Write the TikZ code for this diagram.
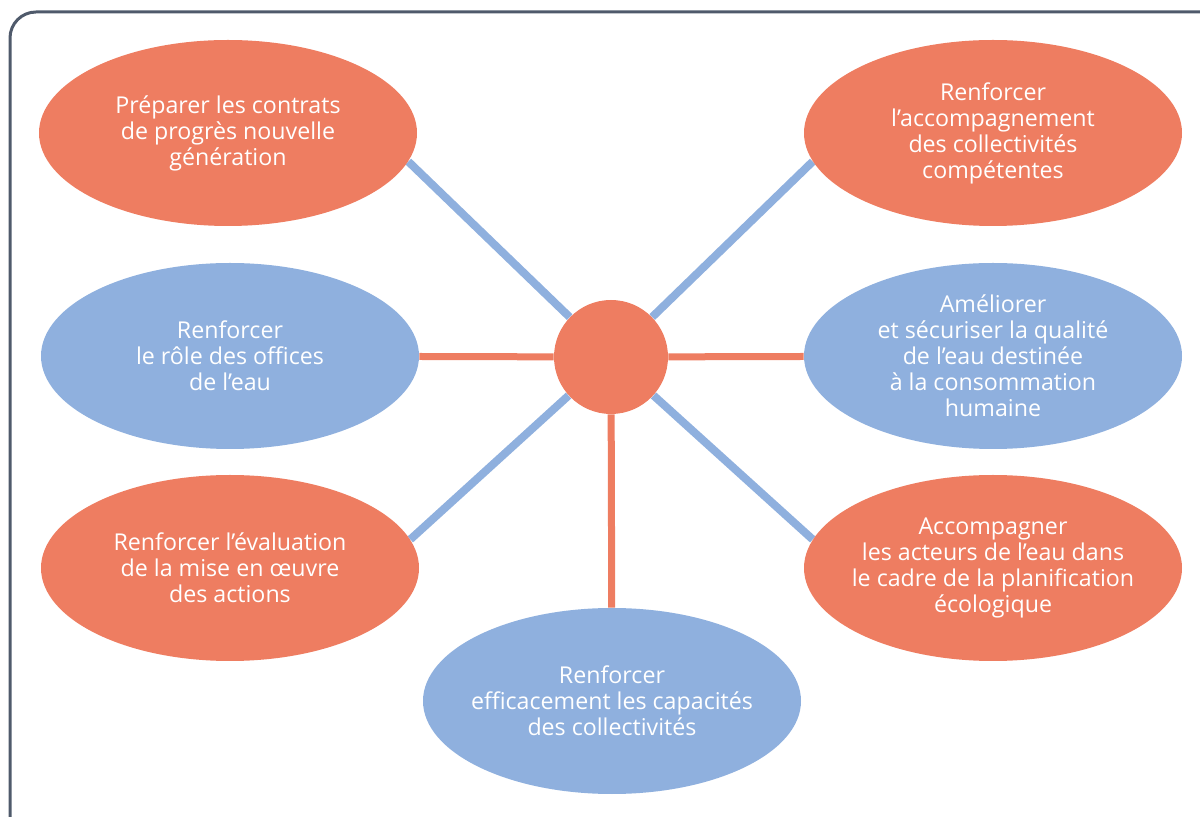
\documentclass[tikz,border=0pt]{standalone}
\usepackage{fontspec}
\setmainfont{Open Sans}
\usetikzlibrary{positioning, backgrounds, shapes.geometric}
\definecolor{goalOrange}{HTML}{EE7D61}
\definecolor{goalBlue}{HTML}{8FB0DE}
\definecolor{frameGrey}{HTML}{4F5A6B}
\tikzstyle{goal} =[ellipse, inner sep=-10pt, minimum width=189pt, minimum height=93pt, align=center, text=white, font=\fontsize{11.6}{13}\selectfont]
\tikzstyle{goalO} =[goal, fill=goalOrange]
\tikzstyle{goalB} =[goal, fill=goalBlue]
\tikzstyle{spokeB} =[line width=4pt, goalBlue]
\tikzstyle{spokeO} =[line width=3.5pt, goalOrange]

\begin{document}
\begin{tikzpicture}[x=0.5pt, y=-0.5pt]
\path[use as bounding box, clip] (0,0) rectangle (1200,817);
\draw[frameGrey, line width=1.5pt, rounded corners=13pt] (10,12) rectangle (1240,860);

\node (hub) [circle, fill=goalOrange, minimum size=57pt, inner sep=0pt] at (611,357) {};

\node (contrats) [goalO] at (228,133) {Préparer les contrats\\de progrès nouvelle\\génération};
\node (offices) [goalB] at (230,356) {Renforcer\\le rôle des offices\\de l’eau};
\node (evaluation) [goalO] at (230,568) {Renforcer l’évaluation\\de la mise en œuvre\\des actions};
\node (capacites) [goalB] at (612,701) {Renforcer\\efficacement les capacités\\des collectivités};
\node (accomp) [goalO] at (993,133) {Renforcer\\l’accompagnement\\des collectivités\\compétentes};
\node (qualite) [goalB] at (993,356) {Améliorer\\et sécuriser la qualité\\de l’eau destinée\\à la consommation\\humaine};
\node (planif) [goalO] at (993,568) {Accompagner\\les acteurs de l’eau dans\\le cadre de la planification\\écologique};

\begin{scope}[on background layer]
\draw[spokeB] (hub) -- (contrats.-9);
\draw[spokeB] (hub) -- (accomp.-171);
\draw[spokeB] (hub) -- (evaluation.9);
\draw[spokeB] (hub) -- (planif.171);
\draw[spokeO] (hub) -- (offices);
\draw[spokeO] (hub) -- (qualite);
\draw[spokeO] (hub) -- (capacites);
\end{scope}

\end{tikzpicture}
\end{document}
